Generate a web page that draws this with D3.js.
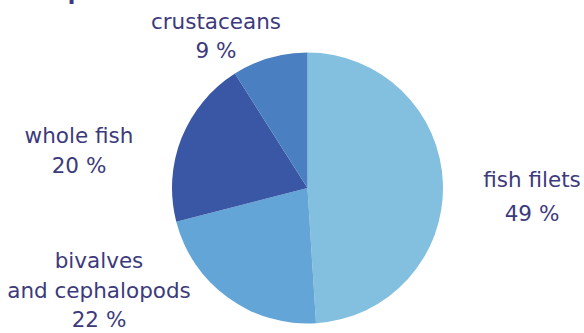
<!DOCTYPE html>
<html><head><meta charset="utf-8">
<script src="https://cdn.jsdelivr.net/npm/d3@7"></script>
<style>html,body{margin:0;padding:0;background:#fff;overflow:hidden}</style>
</head><body>
<svg id="chart" width="584" height="333"></svg>
<script>
const title = "Fresh products";
const categories = ["fish filets", "bivalves\nand cephalopods", "whole fish", "crustaceans"];
const values = [49, 22, 20, 9];
const valueLabels = ["49 %", "22 %", "20 %", "9 %"];

// layout / style (not data)
const colors = ["#83bfdf", "#63a5d7", "#3a57a5", "#4a7fc1"];
const labelPos = [[532, 187], [99, 268], [79, 143], [216, 29]];
const lineGap = [34, 29.5, 30, 29];
const textColor = "#3d3a7c";
const cx = 307.5, cy = 188, r = 135.5;

const svg = d3.select("#chart");
const font = "'DejaVu Sans', sans-serif";

svg.append("text").attr("x", -8).attr("y", 0)
  .attr("font-family", font).attr("font-weight", "bold").attr("font-size", 22)
  .attr("fill", textColor).text(title);

const pie = d3.pie().sort(null).value(d => d)(values);
const arc = d3.arc().innerRadius(0).outerRadius(r);
const g = svg.append("g").attr("transform", `translate(${cx},${cy})`);
g.selectAll("path").data(pie).join("path")
  .attr("d", arc).attr("fill", (d, i) => colors[i]);

categories.forEach((c, i) => {
  const lines = c.split("\n").concat([valueLabels[i]]);
  const t = svg.append("text").attr("text-anchor", "middle")
    .attr("font-family", font).attr("font-size", 21.5).attr("fill", textColor);
  lines.forEach((l, j) => {
    t.append("tspan").attr("x", labelPos[i][0]).attr("y", labelPos[i][1] + j * lineGap[i]).text(l);
  });
});
</script>
</body></html>
